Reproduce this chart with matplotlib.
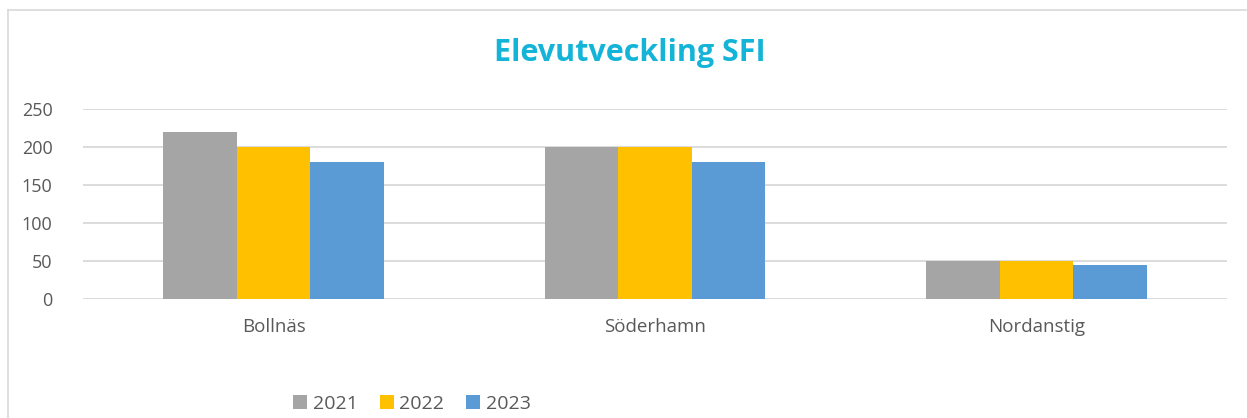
import matplotlib
matplotlib.use("Agg")
import matplotlib.pyplot as plt
import numpy as np
from matplotlib.lines import Line2D
from matplotlib.patches import Patch

categories = ["Bollnäs", "Söderhamn", "Nordanstig"]
series_names = ["2021", "2022", "2023"]
values_2021 = [220, 200, 50]
values_2022 = [200, 200, 50]
values_2023 = [180, 180, 45]
yticks = [0, 50, 100, 150, 200, 250]
colors = ["#A5A5A5", "#FFC000", "#5B9BD5"]

W, H = 1247, 418
fig = plt.figure(figsize=(W / 100, H / 100), dpi=100)
font = "Open Sans"
txt = "#595959"

ax = fig.add_axes([83 / W, 1 - 299 / H, (1227 - 83) / W, (299 - 109) / H])
x = np.arange(len(categories))
bw = 0.193
for i, (vals, c) in enumerate(zip([values_2021, values_2022, values_2023], colors)):
    ax.bar(x + (i - 1) * bw, vals, width=bw, color=c, label=series_names[i], zorder=3)

ax.set_xlim(-0.5, len(categories) - 0.5)
ax.set_ylim(0, 250)
ax.set_yticks(yticks)
ax.set_yticklabels([str(v) for v in yticks], fontsize=13, color=txt, family=font)
ax.set_xticks(x)
ax.set_xticklabels(categories, fontsize=13.5, color=txt, family=font)
ax.tick_params(axis="both", length=0)
ax.tick_params(axis="y", pad=22)
ax.tick_params(axis="x", pad=14)
ax.grid(axis="y", color="#D9D9D9", linewidth=1.3, zorder=0)
for s in ax.spines.values():
    s.set_visible(False)

fig.text(630 / W, 1 - 53 / H, "Elevutveckling SFI", ha="center", va="center",
         fontsize=22, fontweight="bold", color="#14B4D8", family=font)

handles = [Patch(facecolor=c, edgecolor="none") for c in colors]
fig.legend(handles, series_names, loc="center", bbox_to_anchor=(412 / W, 1 - 404 / H),
           ncol=3, frameon=False, prop={"family": font, "size": 14},
           labelcolor=txt, handlelength=0.72, handleheight=0.72, handletextpad=0.3,
           columnspacing=1.1)

# chart-area border (top and left edges visible)
fig.add_artist(Line2D([8 / W, 8 / W], [0, 1 - 10 / H], color="#D9D9D9", linewidth=1.2))
fig.add_artist(Line2D([8 / W, 1246 / W], [1 - 10 / H, 1 - 10 / H], color="#D9D9D9", linewidth=1.2))

fig.savefig("out.png", dpi=100)
